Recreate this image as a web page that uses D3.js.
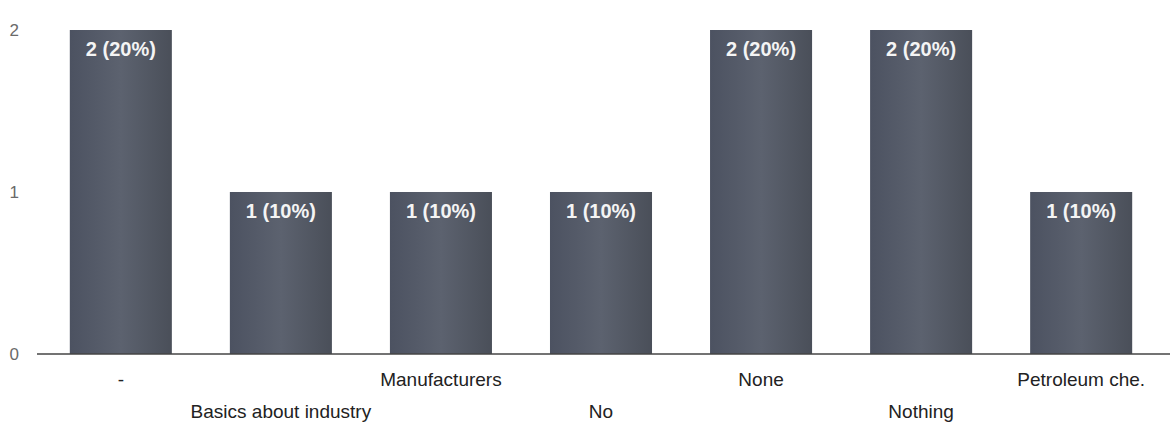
<!DOCTYPE html>
<html>
<head>
<meta charset="utf-8">
<script src="https://cdn.jsdelivr.net/npm/d3@7"></script>
<style>
  body { margin: 0; background: #fff; }
  svg { display: block; font-family: "Liberation Sans", Arial, sans-serif; }
</style>
</head>
<body>
<svg id="chart" width="1170" height="439"></svg>
<script>
// answers and their counts
const categories = ['-', 'Basics about industry', 'Manufacturers', 'No', 'None', 'Nothing', 'Petroleum che.'];
const counts = [2, 1, 1, 1, 2, 2, 1];
const percents = [20, 10, 10, 10, 20, 20, 10];
const yTicks = [0, 1, 2];

const svg = d3.select('#chart');
const width = 1170;

const x = d3.scaleBand()
  .domain(categories)
  .range([41, 1161])
  .paddingInner(0.3625)
  .paddingOuter(0.18);

const y = d3.scaleLinear()
  .domain([0, 2])
  .range([354, 30]);

// gradient to give the bars a bit of the printed look
const defs = svg.append('defs');
const grad = defs.append('linearGradient')
  .attr('id', 'barFill')
  .attr('x1', 0).attr('x2', 1).attr('y1', 0).attr('y2', 0);
grad.append('stop').attr('offset', '0%').attr('stop-color', '#4c5261');
grad.append('stop').attr('offset', '50%').attr('stop-color', '#5c626f');
grad.append('stop').attr('offset', '100%').attr('stop-color', '#4a4f59');

// y axis labels only
svg.append('g')
  .attr('transform', 'translate(21,0)')
  .call(d3.axisLeft(y).tickValues(yTicks).tickFormat(d3.format('d')).tickSize(0).tickPadding(2))
  .call(g => g.select('.domain').remove())
  .selectAll('text')
  .attr('font-size', 17)
  .attr('fill', '#6a6a6a')
  .attr('font-family', '"Liberation Sans", Arial, sans-serif');

// bars
svg.selectAll('.bar')
  .data(categories)
  .enter()
  .append('rect')
  .attr('class', 'bar')
  .attr('x', d => x(d))
  .attr('y', (d, i) => y(counts[i]))
  .attr('width', x.bandwidth())
  .attr('height', (d, i) => y(0) - y(counts[i]))
  .attr('fill', 'url(#barFill)');

// value labels inside the bars
svg.selectAll('.val')
  .data(categories)
  .enter()
  .append('text')
  .attr('class', 'val')
  .attr('x', d => x(d) + x.bandwidth() / 2)
  .attr('y', (d, i) => y(counts[i]) + 26)
  .attr('text-anchor', 'middle')
  .attr('font-size', 20)
  .attr('font-weight', 'bold')
  .attr('fill', '#f4f4f4')
  .text((d, i) => `${counts[i]} (${percents[i]}%)`);

// baseline
svg.append('line')
  .attr('x1', 37)
  .attr('x2', width)
  .attr('y1', y(0))
  .attr('y2', y(0))
  .attr('stroke', '#444')
  .attr('stroke-width', 1.5);

// category labels, staggered on two rows
svg.append('g')
  .attr('transform', `translate(0,${y(0)})`)
  .call(d3.axisBottom(x).tickSize(0).tickPadding(0))
  .call(g => g.select('.domain').remove())
  .selectAll('text')
  .attr('dy', null)
  .attr('y', (d, i) => i % 2 === 0 ? 32 : 64)
  .attr('font-size', 19)
  .attr('fill', '#222')
  .attr('font-family', '"Liberation Sans", Arial, sans-serif');
</script>
</body>
</html>
